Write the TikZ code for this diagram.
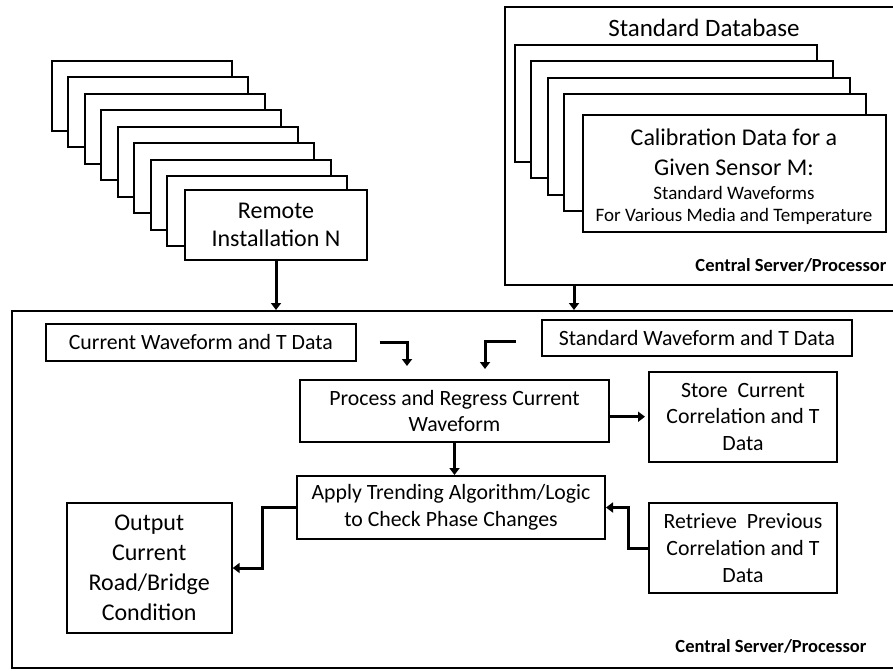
\documentclass[tikz,border=0pt]{standalone}
\usepackage{fontspec}
\setmainfont{Carlito}
\usetikzlibrary{arrows.meta}
\tikzset{
  box/.style={draw=black, line width=2pt, fill=white, inner sep=0pt, align=center},
  frame/.style={draw=black, line width=2pt, inner sep=0pt},
  arr/.style={line width=3pt, -{Triangle[length=7pt,width=10pt]}},
  big/.style={font=\fontsize{24}{28}\selectfont},
  mid/.style={font=\fontsize{21.8}{26.7}\selectfont},
  tag/.style={font=\fontsize{18.5}{20}\selectfont\bfseries},
}
\begin{document}
\begin{tikzpicture}[x=1pt,y=-1pt]
\clip (0,0) rectangle (893,670);
\fill[white] (0,0) rectangle (893,670);
% top-right server frame
\node[frame, minimum width=395pt, minimum height=278pt] (server) at (702.5,146) {};
\node[font=\fontsize{25}{28}\selectfont, anchor=base] (stdb) at (704,36) {Standard Database};
\node[tag, anchor=base east] (tag1) at (890,271) {Central Server/Processor};
% database stack
\foreach \j in {0,1,2,3} {
  \node[box, minimum width=302pt, minimum height=117pt] (db\j) at (666+16.4*\j,103.5+16.4*\j) {};
}
\node[box, minimum width=303pt, minimum height=117pt] (calib) at (734.5,173.3) {};
\node[big, anchor=base] (c1) at (734,145) {Calibration Data for a};
\node[big, anchor=base] (c2) at (734,175) {Given Sensor M:};
\node[font=\fontsize{19}{22}\selectfont, anchor=base] (c3) at (734,199) {Standard Waveforms};
\node[font=\fontsize{19}{22}\selectfont, anchor=base] (c4) at (734,221) {For Various Media and Temperature};
% remote stack
\foreach \i in {0,...,7} {
  \node[box, minimum width=180pt, minimum height=70pt] (rs\i) at (142+16.45*\i,96+16.45*\i) {};
}
\node[box, big, minimum width=182pt, minimum height=70pt] (remote) at (276,224.5) {Remote\\Installation N};
% lower frame
\node[frame, minimum width=888pt, minimum height=357pt] (lower) at (456,489.5) {};
\node[tag, anchor=base east] (tag2) at (870,652) {Central Server/Processor};
% lower boxes
\node[box, mid, minimum width=310pt, minimum height=37pt] (cur) at (200.8,342.5) {Current Waveform and T Data};
\node[box, mid, minimum width=310pt, minimum height=36pt] (std) at (697,338) {Standard Waveform and T Data};
\node[box, mid, minimum width=309pt, minimum height=62pt] (proc) at (454.5,411) {Process and Regress Current\\Waveform};
\node[box, mid, minimum width=188pt, minimum height=90pt] (store) at (743,416.7) {Store\ \ Current\\Correlation and T\\Data};
\node[box, mid, minimum width=308pt, minimum height=63pt] (apply) at (451,507.5) {Apply Trending Algorithm/Logic\\to Check Phase Changes};
\node[box, font=\fontsize{24}{30}\selectfont, minimum width=165pt, minimum height=129.4pt] (out) at (149.2,568) {Output\\Current\\Road/Bridge\\Condition};
\node[box, mid, minimum width=188pt, minimum height=90pt] (retr) at (743,548) {Retrieve\ \ Previous\\Correlation and T\\Data};
% connectors
\draw[arr] (remote.south) -- (remote.south |- lower.north);
\draw[arr] ([xshift=70pt]server.south west) -- ([xshift=70pt]server.south west |- lower.north);
\draw[arr] ([xshift=22.7pt]cur.east) -| ([xshift=-47.5pt,yshift=13pt]proc.north);
\draw[arr] ([xshift=-25pt,yshift=-3pt]std.west) -| ([xshift=30.5pt,yshift=10pt]proc.north);
\draw[arr] (proc.east |- store.west) -- ([xshift=-3pt]store.west);
\draw[arr] (proc.south) -- (proc.south |- apply.north);
\draw[arr] (apply.west) -- ++(-34,0) |- (out.east);
\draw[arr] (retr.west) -- ++(-20,0) |- (apply.east);
\end{tikzpicture}
\end{document}
